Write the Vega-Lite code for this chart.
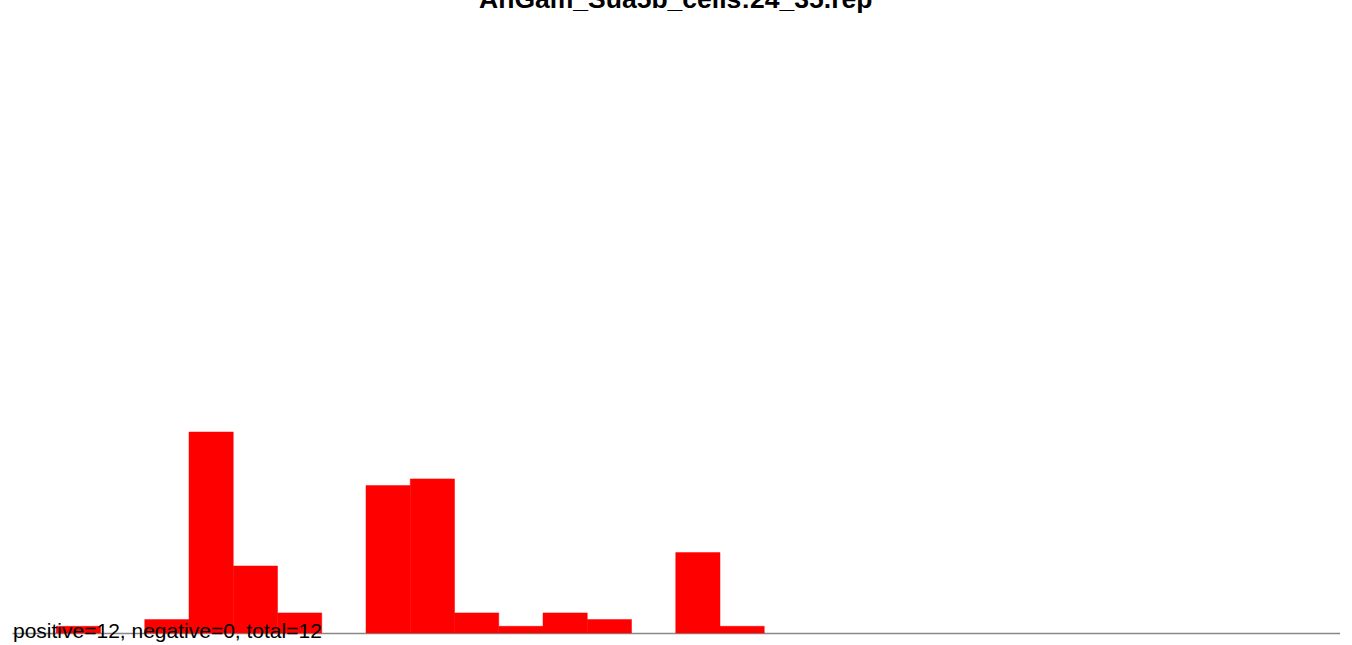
{
  "$schema": "https://vega.github.io/schema/vega-lite/v6.json",
  "width": 1327.5,
  "height": 603,
  "autosize": {"type": "none"},
  "padding": {"left": 12, "top": 30, "right": 12.5, "bottom": 12},
  "background": "white",
  "config": {"view": {"stroke": null}},
  "title": {
    "text": "AnGam_Sua5b_cells:24_35.rep",
    "font": "Liberation Sans",
    "fontSize": 26.5,
    "fontWeight": "bold",
    "color": "black",
    "anchor": "middle",
    "frame": "group",
    "baseline": "alphabetic",
    "offset": -4
  },
  "datasets": {
    "bins": [
      {"bin": 1, "bin_end": 2, "count": 1},
      {"bin": 3, "bin_end": 4, "count": 2},
      {"bin": 4, "bin_end": 5, "count": 30},
      {"bin": 5, "bin_end": 6, "count": 10},
      {"bin": 6, "bin_end": 7, "count": 3},
      {"bin": 8, "bin_end": 9, "count": 22},
      {"bin": 9, "bin_end": 10, "count": 23},
      {"bin": 10, "bin_end": 11, "count": 3},
      {"bin": 11, "bin_end": 12, "count": 1},
      {"bin": 12, "bin_end": 13, "count": 3},
      {"bin": 13, "bin_end": 14, "count": 2},
      {"bin": 15, "bin_end": 16, "count": 12},
      {"bin": 16, "bin_end": 17, "count": 1}
    ],
    "notes": [
      {"x": 0, "y": 0, "label": "positive=12, negative=0, total=12"}
    ]
  },
  "layer": [
    {
      "data": {"name": "bins"},
      "mark": {"type": "bar", "color": "#ff0000", "stroke": "#ff0000", "strokeWidth": 0.5},
      "encoding": {
        "x": {
          "field": "bin",
          "type": "quantitative",
          "scale": {"domain": [0, 30], "nice": false, "zero": false},
          "axis": {
            "title": null,
            "labels": false,
            "ticks": false,
            "grid": false,
            "domainColor": "#888888",
            "domainWidth": 1.5
          }
        },
        "x2": {"field": "bin_end"},
        "y": {
          "field": "count",
          "type": "quantitative",
          "scale": {"domain": [0, 90], "nice": false},
          "axis": null
        },
        "y2": {"datum": 0}
      }
    },
    {
      "data": {"name": "notes"},
      "mark": {
        "type": "text",
        "align": "left",
        "baseline": "alphabetic",
        "font": "Liberation Sans",
        "fontSize": 21,
        "color": "black",
        "dx": 1,
        "dy": 5
      },
      "encoding": {
        "x": {"field": "x", "type": "quantitative"},
        "y": {"field": "y", "type": "quantitative"},
        "text": {"field": "label"}
      }
    }
  ]
}
